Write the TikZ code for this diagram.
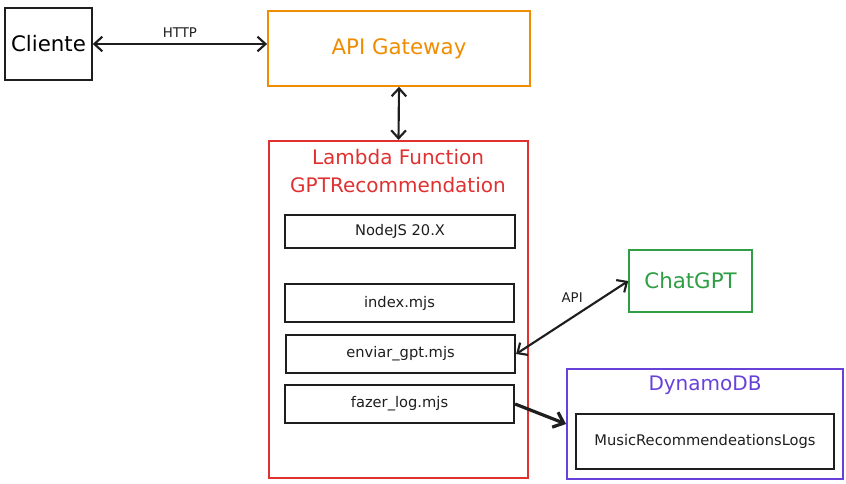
\documentclass[tikz,border=0pt]{standalone}
\usepackage{fontspec}
\setmainfont{DejaVu Sans}
\usetikzlibrary{arrows.meta,positioning}

\definecolor{ink}{HTML}{1E1E1E}
\definecolor{gwOrange}{HTML}{F08C00}
\definecolor{lamRed}{HTML}{E03131}
\definecolor{gptGreen}{HTML}{2F9E44}
\definecolor{dynPurple}{HTML}{6741D9}

\begin{document}
\begin{tikzpicture}[
                x=0.75pt,y=-0.75pt,
                box/.style={draw=ink,line width=1.4pt,inner sep=2pt},
                file/.style={box,minimum width=172pt,minimum height=28.5pt,font=\fontsize{11}{13}\selectfont,text=ink},
                link/.style={draw=ink,line width=1.6pt,{Straight Barb[length=6pt,width=11pt]}-{Straight Barb[length=6pt,width=11pt]}},
                lbl/.style={font=\fontsize{10}{12}\selectfont,text=ink}
            ]
                \useasboundingbox (0,0) rectangle (846,483);
                % clients and gateway
                \node (cli) [box,minimum width=65pt,minimum height=54pt,font=\fontsize{16}{19}\selectfont] at (48.5,44) {Cliente};
                \node (api) [box,draw=gwOrange,minimum width=196.5pt,minimum height=56pt,text=gwOrange,font=\fontsize{16}{19}\selectfont] at (399,48.5) {API Gateway};
                % lambda
                \node (lam) [box,draw=lamRed,minimum width=194pt,minimum height=253pt] at (398.5,309.5) {};
                \node (lamtitle) [text=lamRed,align=center,font=\fontsize{15}{21}\selectfont] at (398,171) {Lambda Function\\GPTRecommendation};
                \node (node) [file,minimum height=25pt] at (400,231.5) {NodeJS 20.X};
                \node (idx)  [file] at (399.5,303) {index.mjs};
                \node (env)  [file] at (400.5,354) {enviar\_gpt.mjs};
                \node (fz)   [file] at (399.5,404) {fazer\_log.mjs};
                % services
                \node (gpt) [box,draw=gptGreen,minimum width=92pt,minimum height=46.5pt,text=gptGreen,font=\fontsize{16}{19}\selectfont] at (690.5,281) {ChatGPT};
                \node (dyn) [box,draw=dynPurple,minimum width=207pt,minimum height=82.5pt] at (705,424) {};
                \node (dyntitle) [text=dynPurple,font=\fontsize{15}{18}\selectfont] at (705,385) {DynamoDB};
                \node (mus) [file,minimum width=193.5pt,minimum height=41pt] at (705,441.5) {MusicRecommendeationsLogs};

                \draw [link] (cli.east) -- node [lbl,above=1pt] {HTTP} (cli.east -| api.west);
                \draw [link] (api.south) -- (lam.north);
                \draw [link] (env.east) -- node [lbl,above=7pt] {API} (gpt.west);
                \draw [draw=ink,line width=2.4pt,-{Straight Barb[length=7pt,width=12pt]}] (fz.east) -- (dyn.west);
            \end{tikzpicture}
\end{document}
